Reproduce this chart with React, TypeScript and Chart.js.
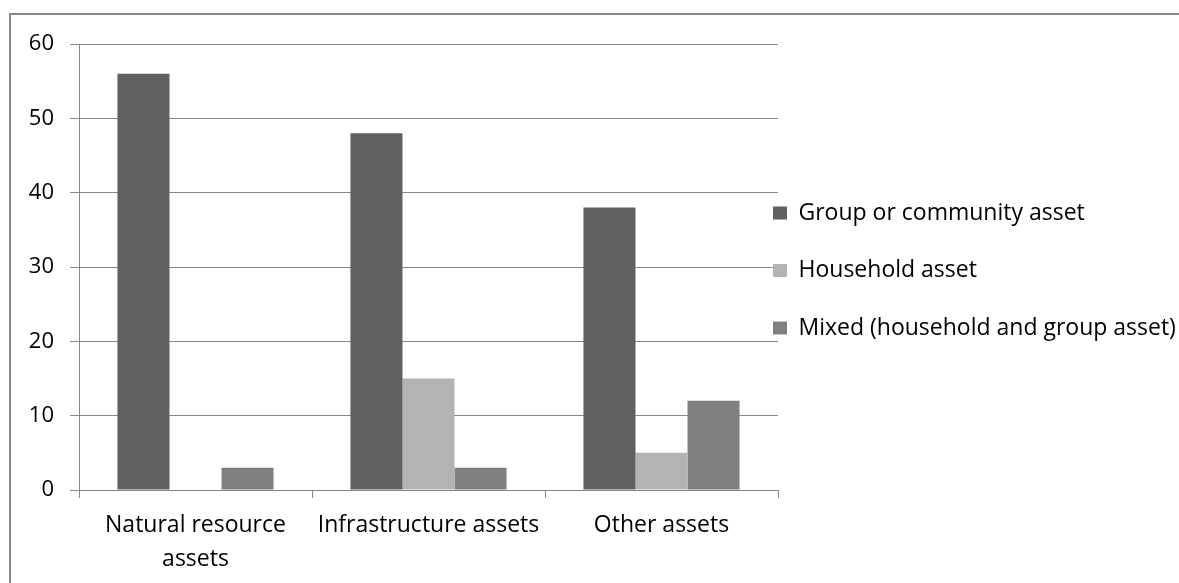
import React, { useEffect, useRef } from 'react';
import { Chart, registerables } from 'chart.js';

Chart.register(...registerables);

const categories: (string | string[])[] = [['Natural resource', 'assets'], 'Infrastructure assets', 'Other assets'];
const seriesNames = ['Group or community asset', 'Household asset', 'Mixed (household and group asset)'];
const groupValues = [56, 48, 38];
const householdValues = [0, 15, 5];
const mixedValues = [3, 3, 12];
const seriesColors = ['#606060', '#b3b3b3', '#808080'];
const yMin = 0;
const yMax = 60;
const yStep = 10;

const FONT = "'Open Sans', 'DejaVu Sans', sans-serif";
const GRID = '#888888';

const legendShift = {
  id: 'legendShift',
  afterLayout(chart: any) {
    const lg = chart.legend;
    if (!lg) return;
    const pad = lg.options.labels.padding;
    const dx = chart.chartArea.right - 5 - pad - lg.left;
    lg.left += dx;
    lg.right = chart.width;
    lg.width = lg.right - lg.left;
    lg.top += 3.5;
    lg.bottom += 3.5;
  },
};

export default function App() {
  const ref = useRef<HTMLCanvasElement | null>(null);

  useEffect(() => {
    if (!ref.current) return;
    const values = [groupValues, householdValues, mixedValues];
    const chart = new Chart(ref.current, {
      type: 'bar',
      data: {
        labels: categories,
        datasets: seriesNames.map((name, i) => ({
          label: name,
          data: values[i],
          backgroundColor: seriesColors[i],
          borderWidth: 0,
          barPercentage: 1,
          categoryPercentage: 0.67,
        })),
      },
      options: {
        responsive: false,
        animation: false,
        layout: { padding: { top: 44, left: 0, right: 0, bottom: 0 } },
        plugins: {
          tooltip: { enabled: false },
          legend: {
            position: 'right',
            fullSize: false,
            maxWidth: 401,
            labels: {
              boxWidth: 14,
              boxHeight: 13,
              padding: 34.5,
              color: '#000',
              font: { family: FONT, size: 23 },
            },
          },
        },
        scales: {
          x: {
            afterFit: (s: any) => { s.height = 93; },
            grid: {
              drawOnChartArea: false,
              drawTicks: true,
              tickLength: 8,
              color: GRID,
              offset: true,
            },
            border: { color: GRID, width: 1 },
            ticks: {
              color: '#000',
              padding: 11,
              maxRotation: 0,
              autoSkip: false,
              font: { family: FONT, size: 23, lineHeight: 1.45 },
            },
          },
          y: {
            min: yMin,
            max: yMax,
            afterFit: (s: any) => { s.width = 79; },
            grid: { color: GRID, tickLength: 9, drawTicks: true },
            border: { color: GRID, width: 1 },
            ticks: {
              stepSize: yStep,
              color: '#000',
              padding: 16,
              font: { family: FONT, size: 22 },
            },
          },
        },
      },
      plugins: [legendShift],
    });
    return () => chart.destroy();
  }, []);

  return (
    <div style={{ position: 'fixed', left: 0, top: 0, width: 1179, height: 583, overflow: 'hidden', background: '#fff' }}>
      <div
        style={{
          position: 'absolute',
          left: 9,
          top: 13,
          width: 1400,
          height: 800,
          borderLeft: '2px solid #888',
          borderTop: '2px solid #888',
        }}
      />
      <canvas ref={ref} width={1179} height={583} style={{ position: 'absolute', left: 0, top: 0, width: 1179, height: 583 }} />
    </div>
  );
}
